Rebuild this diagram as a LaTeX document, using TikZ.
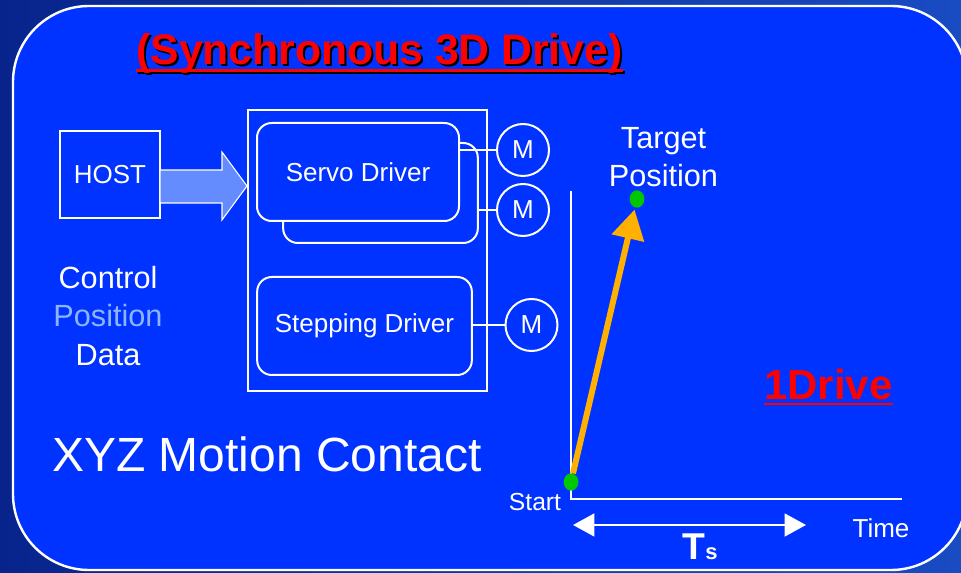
\documentclass[tikz,border=0pt]{standalone}
\usepackage{fontspec}
\setmainfont{Liberation Sans}
\usetikzlibrary{arrows.meta,shapes.geometric}

\definecolor{panelblue}{RGB}{0,51,255}
\definecolor{arrowfill}{RGB}{100,140,255}
\definecolor{posblue}{RGB}{140,180,255}
\definecolor{moveorange}{RGB}{255,176,0}
\definecolor{dotgreen}{RGB}{0,200,0}
\definecolor{titlered}{RGB}{255,0,0}
\definecolor{deepblue}{RGB}{8,36,140}
\definecolor{paleblue}{RGB}{25,75,195}

\begin{document}
\begin{tikzpicture}[x=0.75pt,y=-0.75pt,
    drvbox/.style={draw=white, line width=1.5pt, rounded corners=11pt, fill=panelblue,
      text=white, font=\fontsize{19.5}{23}\selectfont},
    motor/.style={circle, draw=white, line width=1.5pt, minimum size=39pt, inner sep=0pt,
      text=white, font=\fontsize{19.5}{23}\selectfont},
    wire/.style={draw=white, line width=1.5pt},
    dot/.style={ellipse, fill=dotgreen, minimum width=11pt, minimum height=13pt, inner sep=0pt},
    headline/.style={anchor=base, inner sep=0pt, font=\bfseries\fontsize{32}{38}\selectfont}]

  % Background and panel
  \useasboundingbox (0,0) rectangle (961,573);
  \shade[left color=deepblue, right color=paleblue] (0,0) rectangle (961,573);
  \draw[white, line width=1.8pt, fill=panelblue, rounded corners=57pt] (13,6) rectangle (967,570);

  % Title with shadow
  \node[headline, text=black] (titleshadow) at (381.5,67) {(Synchronous 3D Drive)};
  \draw[black, line width=2.2pt] ([yshift=-4pt]titleshadow.base west) -- ([yshift=-4pt]titleshadow.base east);
  \node[headline, text=titlered] (title) at (379.5,65) {(Synchronous 3D Drive)};
  \draw[titlered, line width=2.2pt] ([yshift=-4pt]title.base west) -- ([yshift=-4pt]title.base east);

  % Host side
  \node[draw=white, line width=1.5pt, minimum width=75pt, minimum height=65pt, text=white,
    font=\fontsize{19.5}{23}\selectfont] (host) at (110,174.5) {HOST};
  \filldraw[draw=white, fill=arrowfill, line width=0.8pt]
    (160,170) -- (222,170) -- (222,152) -- (247,186) -- (222,220) -- (222,203) -- (160,203) -- cycle;
  \node[align=center, text=white, font=\fontsize{23}{29}\selectfont] (ctrl) at (108,316)
    {Control\\\textcolor{posblue}{Position}\\Data};

  % Drivers
  \node[draw=white, line width=1.5pt, minimum width=179pt, minimum height=211pt] (drivers) at (367.5,250.5) {};
  \node[drvbox, minimum width=146pt, minimum height=75pt] (servoback) at (380.5,193) {};
  \node[drvbox, minimum width=151.5pt, minimum height=73.5pt] (servo) at (358,172) {Servo Driver};
  \node[drvbox, minimum width=161pt, minimum height=73.5pt] (stepper) at (364.5,326) {Stepping Driver};

  % Motors
  \node[motor] (m1) at (523,150) {M};
  \node[motor] (m2) at (523,210) {M};
  \node[motor] (m3) at (531.5,325) {M};
  \draw[wire] (servo.east |- m1.west) -- (m1.west);
  \draw[wire] (servoback.east |- m2.west) -- (m2.west);
  \draw[wire] (stepper.east |- m3.west) -- (m3.west);

  \node[anchor=base west, inner sep=0pt, text=white, font=\fontsize{36}{42}\selectfont] (xyz) at (52,472) {XYZ Motion Contact};

  % Motion graph
  \coordinate (origin) at (571,499);
  \draw[white, line width=2pt] (571,191) -- (origin) -- (902,499);
  \node[dot] (start) at (571,482) {};
  \node[dot] (target) at (637,199) {};
  \draw[moveorange, line width=4.5pt, -{Triangle[length=22pt,width=24pt]}, shorten >=1.5pt] (start) -- (target);
  \node[align=center, text=white, font=\fontsize{23}{28.5}\selectfont] (targetlbl) at (663.5,157) {Target\\Position};
  \node[text=white, font=\fontsize{18.5}{22}\selectfont] (startlbl) at (535,502) {Start};
  \node[text=white, font=\fontsize{19.5}{23}\selectfont] (timelbl) at (881,528) {Time};

  % Travel time
  \coordinate (tsleft) at (573,525);
  \coordinate (tsright) at (806,525);
  \draw[white, line width=2pt, {Triangle[length=16pt,width=17pt]}-{Triangle[length=16pt,width=17pt]}] (tsleft) -- (tsright);
  \node[anchor=base, inner sep=0pt, text=white, font=\bfseries\fontsize{28}{32}\selectfont] (ts) at (700,560)
    {T{\fontsize{16.5}{20}\selectfont s}};

  % Drive count
  \node[anchor=base, inner sep=0pt, text=titlered, font=\bfseries\fontsize{31.5}{38}\selectfont] (onedrive) at (828.5,400) {1Drive};
  \draw[titlered, line width=2.2pt] ([yshift=-3pt]onedrive.base west) -- ([yshift=-3pt]onedrive.base east);
\end{tikzpicture}
\end{document}
